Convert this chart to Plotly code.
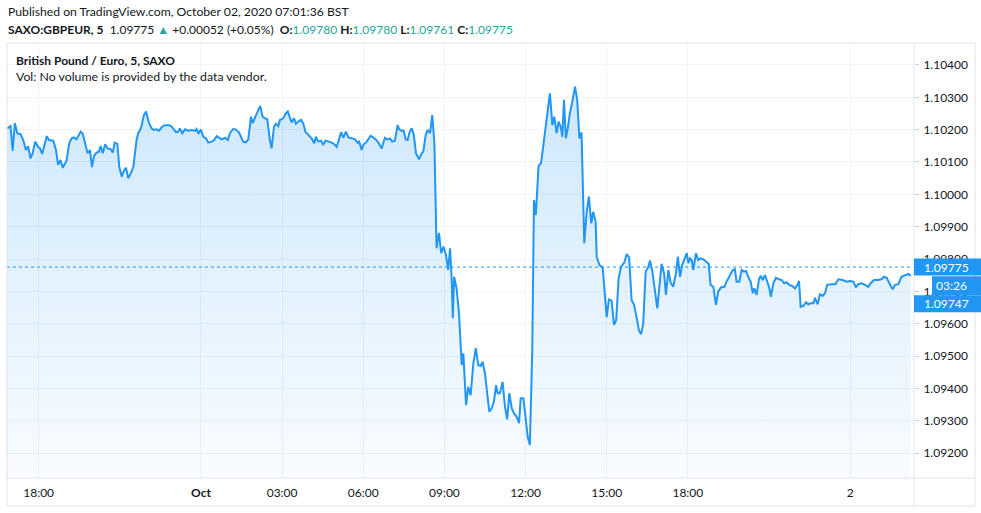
import plotly.graph_objects as go

# GBP/EUR 5-minute closes (SAXO).
# hours are relative to 1 Oct 2020 00:00 (chart time axis).
hours = [
    -7.16, -7.04, -6.96, -6.88, -6.79, -6.67, -6.57, -6.47, -6.39, -6.30,
    -6.22, -6.13, -6.02, -5.95, -5.87, -5.70, -5.62, -5.46, -5.36, -5.28,
    -5.19, -5.11, -4.97, -4.87, -4.78, -4.70, -4.60, -4.45, -4.37, -4.28,
    -4.19, -4.10, -4.03, -3.95, -3.86, -3.77, -3.71, -3.63, -3.54, -3.45,
    -3.33, -3.26, -3.19, -3.09, -3.02, -2.93, -2.85, -2.77, -2.69, -2.59,
    -2.50, -2.38, -2.32, -2.22, -2.11, -2.03, -1.92, -1.82, -1.74, -1.64,
    -1.54, -1.44, -1.33, -1.17, -1.08, -0.92, -0.84, -0.78, -0.69, -0.59,
    -0.47, -0.34, -0.22, -0.16, -0.09, -0.01, 0.09, 0.19, 0.27, 0.40,
    0.49, 0.58, 0.68,
    0.77, 0.89, 0.99, 1.07, 1.19, 1.28, 1.41, 1.56, 1.66, 1.75,
    1.85, 1.91, 2.00, 2.12, 2.19, 2.28, 2.37, 2.45, 2.55, 2.61,
    2.70, 2.77, 2.86, 2.92, 3.04, 3.14, 3.21, 3.26, 3.35, 3.44,
    3.51, 3.60, 3.70, 3.78, 3.87, 3.97, 4.09, 4.19, 4.25, 4.34,
    4.44, 4.52, 4.61, 4.73, 4.89, 5.02, 5.10, 5.18, 5.26, 5.36,
    5.45, 5.57, 5.69, 5.79, 5.85, 5.94, 6.00, 6.13, 6.27, 6.37,
    6.46, 6.56, 6.68, 6.80, 6.89, 6.99, 7.07, 7.17, 7.27, 7.33,
    7.42, 7.49, 7.57, 7.64, 7.72, 7.79, 7.87, 7.95, 8.06, 8.16,
    8.22, 8.31, 8.38, 8.47, 8.55, 8.63,
    8.71, 8.80, 8.88, 8.97, 9.06, 9.14, 9.21, 9.27, 9.31, 9.36,
    9.45, 9.54, 9.64, 9.70, 9.80, 9.88, 9.97, 10.07, 10.16, 10.25,
    10.34, 10.41, 10.50, 10.58, 10.66, 10.75, 10.83, 10.91, 10.97, 11.05,
    11.15, 11.24, 11.32, 11.40, 11.49, 11.57, 11.67, 11.76, 11.82, 11.92,
    12.00, 12.08, 12.16, 12.25, 12.31, 12.38, 12.48, 12.57, 12.65, 12.74,
    12.82, 12.90, 12.99, 13.06, 13.15, 13.22, 13.30, 13.36, 13.42, 13.49,
    13.56, 13.64, 13.73, 13.83, 13.91, 13.99, 14.07, 14.17, 14.26, 14.34,
    14.43, 14.50, 14.59,
    14.63, 14.73, 14.85, 15.00, 15.08, 15.18, 15.27, 15.35, 15.44, 15.53,
    15.65, 15.74, 15.83, 15.92, 16.01, 16.11, 16.19, 16.27, 16.35, 16.44,
    16.54, 16.60, 16.68, 16.78, 16.87, 16.94, 17.03, 17.12, 17.19, 17.28,
    17.36, 17.46, 17.56, 17.63, 17.71, 17.79, 17.89, 17.96, 18.02, 18.08,
    18.14, 18.20, 18.30, 18.38, 18.48, 18.57, 18.67, 18.77, 18.84, 18.94,
    19.04, 19.12, 19.22, 19.35, 19.43, 19.53, 19.66, 19.74, 19.80, 19.90,
    19.99, 20.07, 20.15, 20.23, 20.32, 20.40, 20.46, 20.54, 20.63,
    20.69, 20.77, 20.85, 20.94, 21.01, 21.07, 21.16, 21.26, 21.34, 21.47,
    21.56, 21.65, 21.75, 21.87, 21.96, 22.06, 22.11, 22.17, 22.27, 22.37,
    22.45, 22.54, 22.64, 22.70, 22.80, 22.88, 22.98, 23.07, 23.15, 23.32,
    23.46, 23.56, 23.72, 23.87, 23.99, 24.12, 24.21, 24.30, 24.43, 24.55,
    24.67, 24.76, 24.88, 25.04, 25.17, 25.25, 25.35, 25.45, 25.57, 25.66,
    25.78, 25.90, 26.03, 26.15, 26.24,
]

price = [
    1.10204, 1.10211, 1.10135, 1.10220, 1.10189, 1.10186, 1.10168, 1.10137, 1.10149, 1.10111,
    1.10127, 1.10163, 1.10147, 1.10142, 1.10125, 1.10180, 1.10168, 1.10166, 1.10137, 1.10091,
    1.10106, 1.10082, 1.10104, 1.10158, 1.10173, 1.10176, 1.10170, 1.10194, 1.10187, 1.10158,
    1.10127, 1.10137, 1.10084, 1.10119, 1.10129, 1.10132, 1.10149, 1.10127, 1.10155, 1.10142,
    1.10139, 1.10129, 1.10160, 1.10156, 1.10085, 1.10055, 1.10073, 1.10082, 1.10050, 1.10065,
    1.10085, 1.10168, 1.10189, 1.10204, 1.10245, 1.10256, 1.10220, 1.10204, 1.10199, 1.10201,
    1.10197, 1.10209, 1.10214, 1.10214, 1.10209, 1.10192, 1.10194, 1.10204, 1.10189, 1.10201,
    1.10197, 1.10199, 1.10196, 1.10202, 1.10187, 1.10201, 1.10178, 1.10173, 1.10160, 1.10163,
    1.10168, 1.10180, 1.10175,
    1.10170, 1.10175, 1.10168, 1.10189, 1.10202, 1.10201, 1.10191, 1.10163, 1.10161, 1.10170,
    1.10240, 1.10220, 1.10240, 1.10261, 1.10273, 1.10240, 1.10235, 1.10233, 1.10168, 1.10142,
    1.10209, 1.10218, 1.10211, 1.10230, 1.10235, 1.10251, 1.10256, 1.10245, 1.10222, 1.10235,
    1.10218, 1.10225, 1.10230, 1.10220, 1.10192, 1.10184, 1.10173, 1.10158, 1.10178, 1.10163,
    1.10166, 1.10153, 1.10166, 1.10163, 1.10158, 1.10147, 1.10168, 1.10192, 1.10175, 1.10194,
    1.10176, 1.10173, 1.10171, 1.10160, 1.10163, 1.10137, 1.10153, 1.10163, 1.10181, 1.10176,
    1.10170, 1.10160, 1.10142, 1.10175, 1.10170, 1.10173, 1.10163, 1.10166, 1.10214, 1.10201,
    1.10196, 1.10197, 1.10170, 1.10168, 1.10194, 1.10204, 1.10184, 1.10127, 1.10108, 1.10127,
    1.10132, 1.10184, 1.10199, 1.10189, 1.10245, 1.10158,
    1.09833, 1.09881, 1.09818, 1.09838, 1.09812, 1.09766, 1.09833, 1.09735, 1.09617, 1.09745,
    1.09709, 1.09632, 1.09472, 1.09508, 1.09348, 1.09405, 1.09379, 1.09477, 1.09524, 1.09472,
    1.09469, 1.09482, 1.09446, 1.09385, 1.09328, 1.09338, 1.09359, 1.09410, 1.09385, 1.09385,
    1.09420, 1.09343, 1.09304, 1.09385, 1.09338, 1.09323, 1.09312, 1.09292, 1.09369, 1.09369,
    1.09297, 1.09250, 1.09225, 1.09529, 1.09982, 1.09936, 1.10088, 1.10096, 1.10147, 1.10204,
    1.10261, 1.10312, 1.10214, 1.10240, 1.10189, 1.10225, 1.10209, 1.10178, 1.10292, 1.10173,
    1.10204, 1.10251, 1.10287, 1.10333, 1.10292, 1.10173, 1.10191, 1.09849, 1.09946, 1.09993,
    1.09910, 1.09946, 1.09915,
    1.09807, 1.09781, 1.09774, 1.09620, 1.09675, 1.09671, 1.09596, 1.09611, 1.09740, 1.09776,
    1.09789, 1.09815, 1.09805, 1.09673, 1.09658, 1.09617, 1.09580, 1.09567, 1.09601, 1.09761,
    1.09776, 1.09795, 1.09766, 1.09704, 1.09647, 1.09709, 1.09785, 1.09756, 1.09689, 1.09766,
    1.09727, 1.09714, 1.09756, 1.09807, 1.09745, 1.09781, 1.09802, 1.09818, 1.09787, 1.09802,
    1.09797, 1.09766, 1.09818, 1.09797, 1.09802, 1.09799, 1.09792, 1.09785, 1.09720, 1.09714,
    1.09658, 1.09699, 1.09712, 1.09714, 1.09730, 1.09745, 1.09766, 1.09768, 1.09730, 1.09730,
    1.09766, 1.09761, 1.09763, 1.09745, 1.09730, 1.09694, 1.09709, 1.09689, 1.09737,
    1.09748, 1.09735, 1.09750, 1.09728, 1.09711, 1.09683, 1.09725, 1.09742, 1.09738, 1.09735,
    1.09725, 1.09728, 1.09720, 1.09716, 1.09709, 1.09722, 1.09732, 1.09652, 1.09655, 1.09666,
    1.09660, 1.09663, 1.09663, 1.09680, 1.09660, 1.09691, 1.09686, 1.09694, 1.09720, 1.09722,
    1.09722, 1.09737, 1.09735, 1.09730, 1.09732, 1.09730, 1.09712, 1.09722, 1.09725, 1.09720,
    1.09714, 1.09725, 1.09735, 1.09735, 1.09738, 1.09745, 1.09742, 1.09725, 1.09706, 1.09720,
    1.09722, 1.09745, 1.09750, 1.09754, 1.09748,
]

last_price = 1.09775
close_price = 1.09747
countdown = "03:26"

time_tickvals = [-6, 0, 3, 6, 9, 12, 15, 18, 24]
time_ticktext = ["18:00", "<b>Oct</b>", "03:00", "06:00", "09:00", "12:00", "15:00", "18:00", "2"]

header = "Published on TradingView.com, October 02, 2020 07:01:36 BST"
symbol = "SAXO:GBPEUR, 5"
change = "+0.00052 (+0.05%)"
ohlc = [("O", "1.09780"), ("H", "1.09780"), ("L", "1.09761"), ("C", "1.09775")]
legend_title = "British Pound / Euro, 5, SAXO"
vol_note = "Vol: No volume is provided by the data vendor."

BLUE = "#2196f3"
TEAL = "#26a69a"
TEXT = "#131722"
GRID = "#f0f3fa"
BORDER = "#e0e3eb"
FONT = "Lato, 'Noto Sans', sans-serif"

# plot box in pixels: x 7..914, y 43..478 in a 981x513 page
Y_RANGE = [1.091227, 1.10468]
X_RANGE = [-7.17, 26.36]

fig = go.Figure()

fig.add_trace(
    go.Scatter(
        x=hours,
        y=price,
        mode="lines",
        line={"color": BLUE, "width": 2},
        fill="tozeroy",
        fillgradient={
            "type": "vertical",
            "start": Y_RANGE[0],
            "stop": max(price),
            "colorscale": [[0, "rgba(33,150,243,0.03)"], [1, "rgba(33,150,243,0.22)"]],
        },
        hoverinfo="skip",
        showlegend=False,
    )
)

shapes = []
# last price dotted line
shapes.append(
    dict(type="line", xref="paper", yref="y", x0=0, x1=1, y0=last_price, y1=last_price,
         line={"color": BLUE, "width": 1, "dash": "dot"}, layer="above")
)

# frame around chart / axes
x_right = (975 - 7) / 907
y_bottom = -(506 - 478) / 435
for x0, y0, x1, y1 in [
    (0, 1, x_right, 1),
    (0, 0, x_right, 0),
    (0, y_bottom, x_right, y_bottom),
    (0, y_bottom, 0, 1),
    (1, y_bottom, 1, 1),
    (x_right, y_bottom, x_right, 1),
]:
    shapes.append(
        dict(type="line", xref="paper", yref="paper", x0=x0, y0=y0, x1=x1, y1=y1,
             line={"color": BORDER, "width": 1}, layer="above")
    )

# price label boxes on the right axis
box_right = (981 - 7) / 907
cd_left = (932 - 7) / 907
for x0, anchor, y0, y1 in [
    (1, last_price, -8.5, 8.5),
    (cd_left, close_price, -19, 0),
    (1, close_price, -36, -19),
]:
    shapes.append(
        dict(type="rect", xref="paper", yref="y", ysizemode="pixel", yanchor=anchor,
             x0=x0, x1=box_right, y0=y0, y1=y1, fillcolor=BLUE, line={"width": 0},
             layer="above")
    )

annotations = []
for text, anchor, xshift, yshift in [
    (f"{last_price:.5f}", last_price, 8, 0),
    (countdown, close_price, 20, -9.5),
    (f"{close_price:.5f}", close_price, 8, -27.5),
]:
    annotations.append(
        dict(text=text, xref="paper", yref="y", x=1, y=anchor, xanchor="left",
             yanchor="middle", xshift=xshift, yshift=yshift, showarrow=False,
             font={"color": "white", "size": 12, "family": FONT})
    )

ohlc_text = " ".join(
    f"<b>{k}:</b><span style='color:{TEAL}'>{v}</span>" for k, v in ohlc
)
line2 = (
    f"<b>{symbol}</b>  {ohlc[3][1]} <span style='color:{TEAL}'>▲</span> "
    f"{change}  {ohlc_text}"
)
for text, x, y, size in [
    (header, 0, (478 - 12) / 435, 12.2),
    (line2, 0, (478 - 29) / 435, 12),
    (f"<b>{legend_title}</b>", 8 / 907, (478 - 60) / 435, 12),
    (vol_note, 8 / 907, (478 - 77) / 435, 12.3),
]:
    annotations.append(
        dict(text=text, xref="paper", yref="paper", x=x, y=y, xanchor="left",
             yanchor="middle", showarrow=False, borderpad=0,
             font={"color": TEXT, "size": size, "family": FONT})
    )

fig.update_layout(
    width=981,
    height=513,
    margin={"l": 7, "r": 67, "t": 43, "b": 35},
    paper_bgcolor="white",
    plot_bgcolor="white",
    font={"family": FONT, "size": 12, "color": TEXT},
    showlegend=False,
    xaxis={
        "range": X_RANGE,
        "tickvals": time_tickvals,
        "ticktext": time_ticktext,
        "showgrid": True,
        "gridcolor": GRID,
        "zeroline": False,
        "ticks": "",
        "ticklabelstandoff": 6,
        "showline": False,
    },
    yaxis={
        "side": "right",
        "range": Y_RANGE,
        "tick0": 1.092,
        "dtick": 0.001,
        "tickformat": ".5f",
        "showgrid": True,
        "gridcolor": GRID,
        "zeroline": False,
        "ticks": "outside",
        "ticklen": 4,
        "tickcolor": "#c8cbd2",
        "ticklabelstandoff": 2,
        "showline": False,
    },
    shapes=shapes,
    annotations=annotations,
)

# drop the default page margin so the figure sits at the window origin
fig.write_html(
    "out.html",
    config={"displayModeBar": False},
    post_script="document.body.style.margin='0';",
)
